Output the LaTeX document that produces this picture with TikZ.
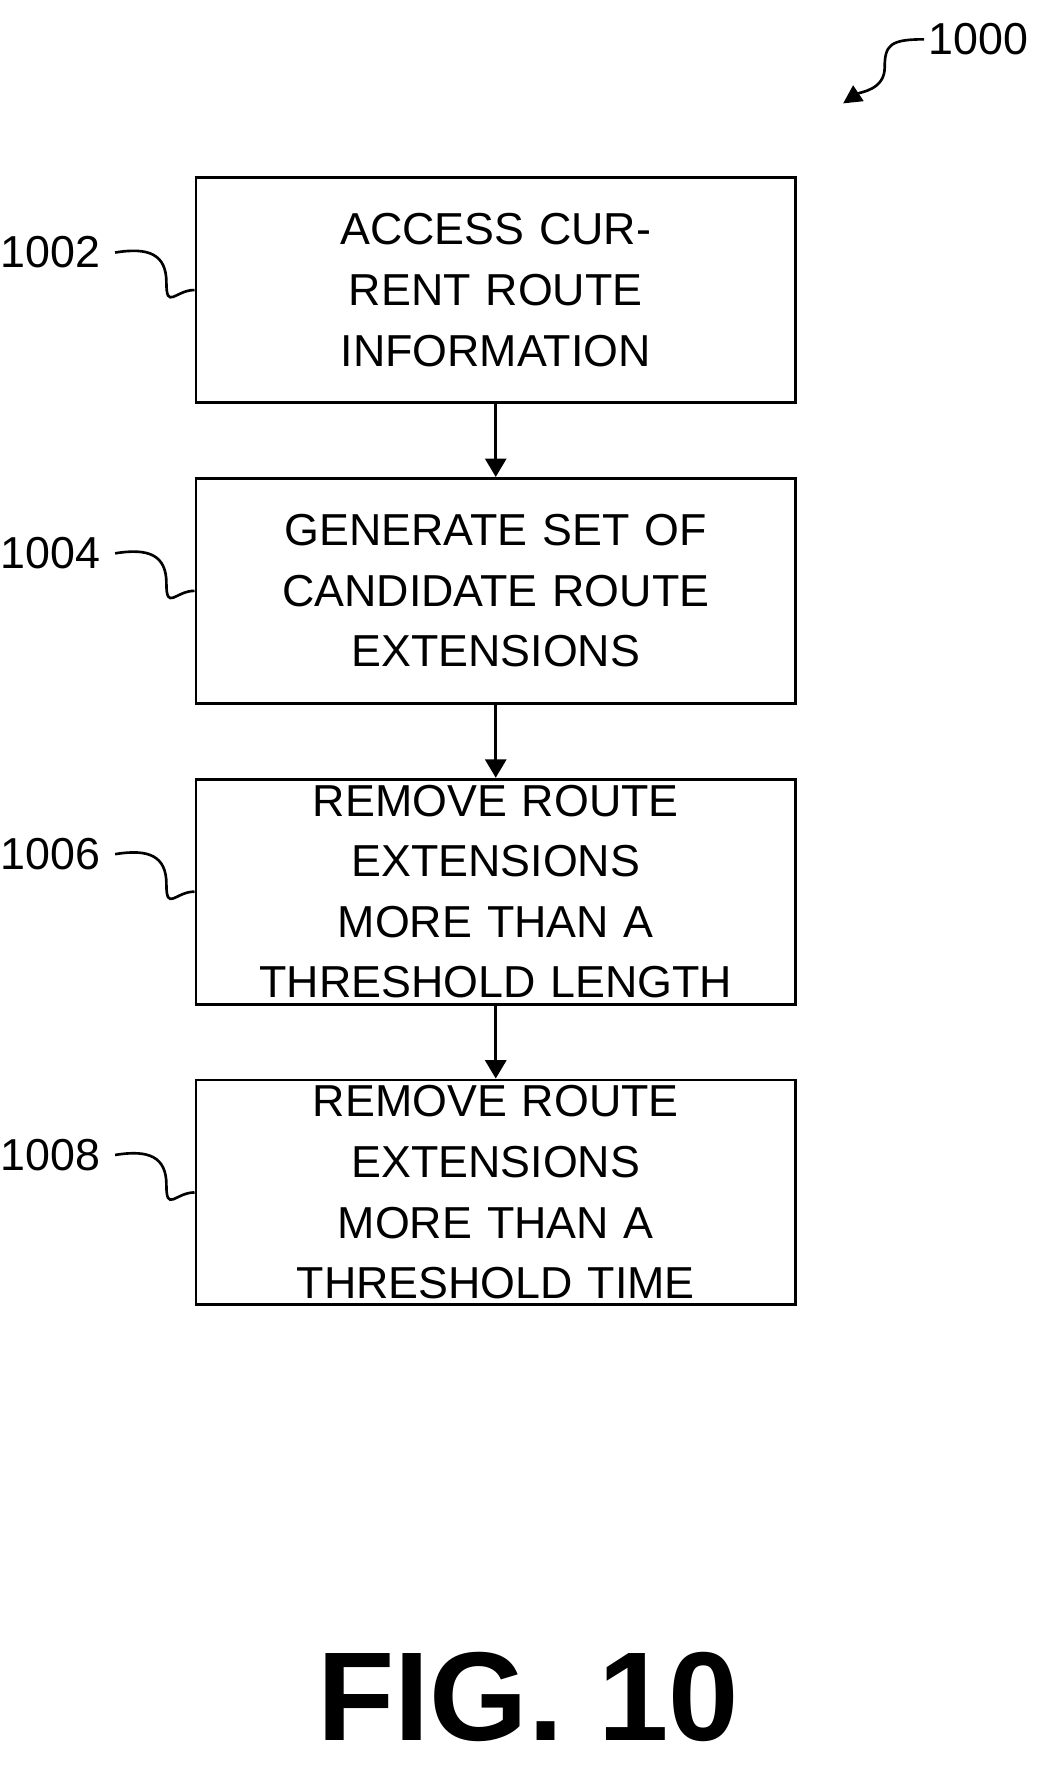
\documentclass[tikz,border=0pt]{standalone}
\usepackage{fontspec}
\setmainfont{Liberation Sans}
\usetikzlibrary{positioning,arrows.meta}

\begin{document}
\begin{tikzpicture}[x=0.03cm,y=-0.03cm,
  stepbox/.style={draw,line width=2.2pt,minimum width=16cm,minimum height=6cm,
    text width=15.4cm,align=center,font=\fontsize{34}{46}\selectfont},
  flow/.style={-{Triangle[length=14pt,width=16pt]},line width=2.2pt},
  ref/.style={font=\fontsize{34}{40}\selectfont},
  node distance=1.95cm]
\useasboundingbox (0,0) rectangle (937,1579);
\node[stepbox] (access) at (441,258) {ACCESS CURRENT ROUTE\\INFORMATION};
\node[stepbox,below=of access] (generate) {GENERATE SET OF\\CANDIDATE ROUTE\\EXTENSIONS};
\node[stepbox,below=of generate] (length) {REMOVE ROUTE\\EXTENSIONS MORE THAN A\\THRESHOLD LENGTH};
\node[stepbox,below=of length] (time) {REMOVE ROUTE\\EXTENSIONS MORE THAN A\\THRESHOLD TIME};
\draw[flow] (access) -- (generate);
\draw[flow] (generate) -- (length);
\draw[flow] (length) -- (time);
% reference numerals
\foreach \blk/\num in {access/1002,generate/1004,length/1006,time/1008}{
  \node[ref,anchor=east] (n\num) at ([xshift=-2.4cm,yshift=1.0cm]\blk.west) {\num};
  \draw[line width=2pt] ([xshift=8pt]n\num.east) .. controls +(30,-5) and +(0,-25) .. ([xshift=-0.75cm,yshift=0.2cm]\blk.west)
    .. controls +(0,25) and +(-17,0) .. (\blk.west);
}
\node[ref,anchor=west] (n1000) at (822,35) {1000};
\coordinate (tip) at (750,92);
\draw[line width=2pt,-{Triangle[length=14pt,width=14pt]}] (n1000.west) .. controls +(-30,0) and +(0,-20) .. (787,60) .. controls +(0,20) and +(15,-10) .. (tip);
\node[font=\bfseries\fontsize{96}{100}\selectfont] (fig) at (470,1510) {FIG. 10};
\end{tikzpicture}
\end{document}
